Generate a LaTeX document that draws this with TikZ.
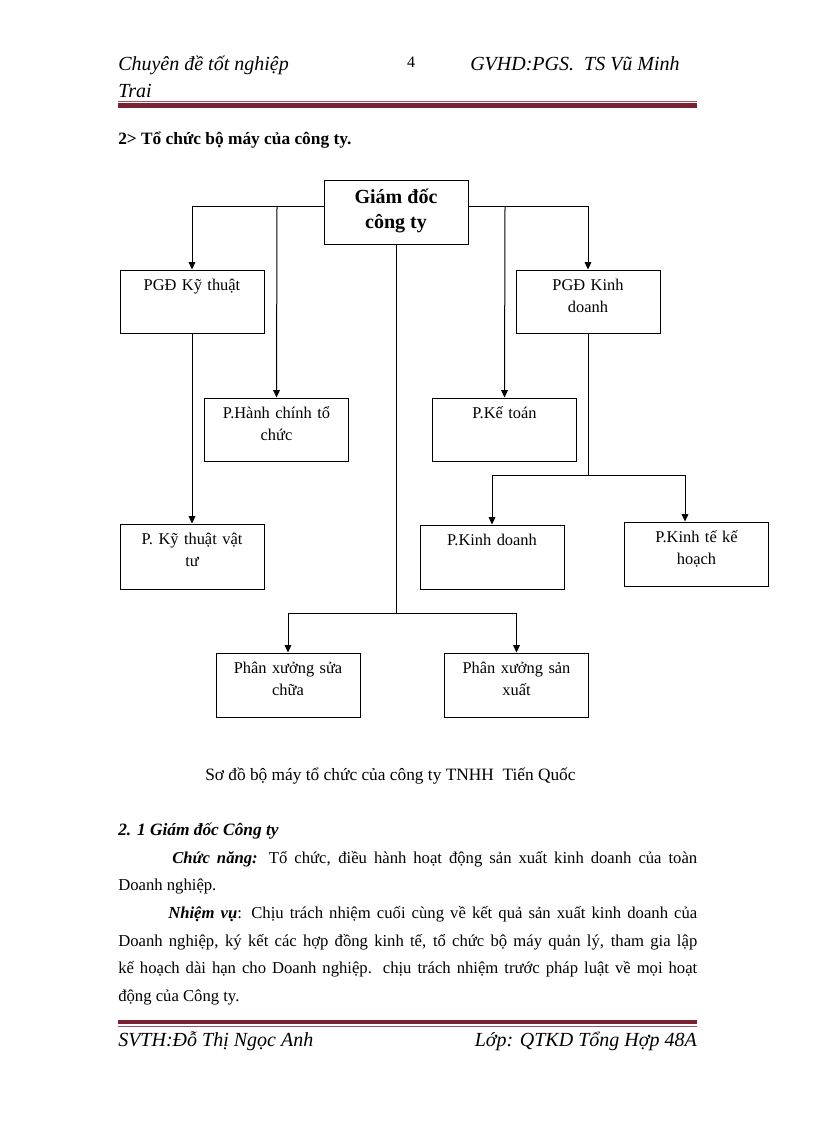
\documentclass[tikz,border=0pt]{standalone}
\usepackage{fontspec}
\setmainfont{Liberation Serif}
\usetikzlibrary{arrows.meta}
\definecolor{rulered}{HTML}{7A2232}
\definecolor{rulethin}{HTML}{A05060}
\tikzset{
  box/.style={draw, line width=0.75pt, minimum width=108pt, minimum height=47.25pt, inner sep=0pt},
  btxt/.style={anchor=base, text width=104pt, align=center, inner sep=0pt, font=\fontsize{12.3pt}{16.5pt}\selectfont},
  arr/.style={-{Triangle[length=5.5pt,width=5pt]}, line width=0.75pt},
  conn/.style={line width=0.75pt},
  body/.style={anchor=base west, inner sep=0pt, font=\fontsize{12.5pt}{15pt}\selectfont},
  hdr/.style={inner sep=0pt, font=\fontsize{15pt}{18pt}\selectfont\itshape},
}
\begin{document}
\begin{tikzpicture}[x=0.75pt,y=-0.75pt]
\useasboundingbox (0,0) rectangle (816,1123);
\fill[white] (0,0) rectangle (816,1123);

% header
\node[hdr, anchor=base west] (h1) at (118,71) {Chuyên đề tốt nghiệp};
\node[hdr, anchor=base west] (h2) at (118,98) {Trai};
\node[inner sep=0pt, anchor=base, font=\fontsize{12pt}{14pt}\selectfont] (pg) at (411,68) {4};
\node[hdr, anchor=base west] (h3) at (470,71) {GVHD:PGS.\ \ TS Vũ Minh};
\draw[rulethin, line width=0.75pt] (118,101.5) -- (697,101.5);
\draw[rulered, line width=3.2pt] (118,105.5) -- (697,105.5);

\node[inner sep=0pt, anchor=base west, font=\fontsize{13pt}{15pt}\selectfont\bfseries] (sec) at (118,145) {2> Tổ chức bộ máy của công ty.};

% boxes
\node[box] (gd) at (396,212.5) {};
\node[inner sep=0pt, align=center, font=\fontsize{15pt}{18.75pt}\selectfont\bfseries] (gdt) at ([yshift=1pt]gd.center) {Giám đốc\\công ty};

\node[box] (pkt) at (192,301.5) {};
\node[btxt] (pktt) at ([yshift=-16pt]pkt.north) {PGĐ Kỹ thuật};
\node[box] (pkd) at (588,301.5) {};
\node[btxt] (pkdt) at ([yshift=-16pt]pkd.north) {PGĐ Kinh\\doanh};
\node[box] (phc) at (276.5,429.5) {};
\node[btxt] (phct) at ([yshift=-16pt]phc.north) {P.Hành chính tổ\\chức};
\node[box] (pkto) at (504.5,429.5) {};
\node[btxt] (pktot) at ([yshift=-16pt]pkto.north) {P.Kế toán};
\node[box, minimum height=48.75pt] (pktvt) at (192,556.5) {};
\node[btxt] (pktvtt) at ([yshift=-16pt]pktvt.north) {P. Kỹ thuật vật\\tư};
\node[box, minimum height=48pt] (pkdd) at (492,557) {};
\node[btxt] (pkddt) at ([yshift=-16pt]pkdd.north) {P.Kinh doanh};
\node[box, minimum height=48pt] (pktkh) at (696.5,554) {};
\node[btxt] (pktkht) at ([yshift=-16pt]pktkh.north) {P.Kinh tế kế\\hoạch};
\node[box, minimum height=48pt] (psc) at (288,685) {};
\node[btxt] (psct) at ([yshift=-16pt]psc.north) {Phân xưởng sửa\\chữa};
\node[box, minimum height=48pt] (psx) at (516.5,685) {};
\node[btxt] (psxt) at ([yshift=-16pt]psx.north) {Phân xưởng sản\\xuất};

% connectors
\coordinate (jl) at (277,207);
\coordinate (jr) at (505,207);
\coordinate (jc) at (396,613);
\coordinate (jk) at (588,475);
\coordinate (jkr) at (685,475);
\draw[arr] (gd.west |- jl) -| (pkt.north);
\draw[arr] (jl) -- (phc.north);
\draw[arr] (gd.east |- jr) -| (pkd.north);
\draw[arr] (jr) -- (pkto.north);
\draw[arr] (pkt.south) -- (pktvt.north);
\draw[conn] (gd.south) -- (jc);
\draw[arr] (jc) -| (psc.north);
\draw[arr] (jc) -| (psx.north);
\draw[conn] (pkd.south) -- (jk);
\draw[arr] (jk) -| (pkdd.north);
\draw[conn] (jk) -- (jkr);
\draw[arr] (jkr) -- (jkr |- pktkh.north);

% caption
\node[inner sep=0pt, anchor=base west, font=\fontsize{13pt}{15pt}\selectfont] (cap) at (205,780) {Sơ đồ bộ máy tổ chức của công ty TNHH\ \ Tiến Quốc};

% body
\node[inner sep=0pt, anchor=base west, font=\fontsize{13pt}{15pt}\selectfont\bfseries\itshape] (s21) at (118,835) {2. 1 Giám đốc Công ty};
\node[body] (l1) at (172,863) {\hbox to 393.75pt{\textbf{\textit{Chức năng:}} Tổ chức, điều hành hoạt động sản xuất kinh doanh của toàn}};
\node[body] (l2) at (118,890.5) {Doanh nghiệp.};
\node[body] (l3) at (168,918) {\hbox to 396.75pt{\textbf{\textit{Nhiệm vụ}}: Chịu trách nhiệm cuối cùng về kết quả sản xuất kinh doanh của}};
\node[body] (l4) at (118,946) {\hbox to 434.25pt{Doanh nghiệp, ký kết các hợp đồng kinh tế, tổ chức bộ máy quản lý, tham gia lập}};
\node[body] (l5) at (118,973.5) {\hbox to 434.25pt{kế hoạch dài hạn cho Doanh nghiệp. chịu trách nhiệm trước pháp luật về mọi hoạt}};
\node[body] (l6) at (118,1001) {động của Công ty.};

% footer
\draw[rulered, line width=3.2pt] (118,1022) -- (697,1022);
\draw[rulethin, line width=0.75pt] (118,1026.5) -- (697,1026.5);
\node[hdr, anchor=base west] (f1) at (118,1046) {SVTH:Đỗ Thị Ngọc Anh};
\node[hdr, anchor=base east] (f2) at (697,1046) {Lớp: QTKD Tổng Hợp 48A};
\end{tikzpicture}
\end{document}
